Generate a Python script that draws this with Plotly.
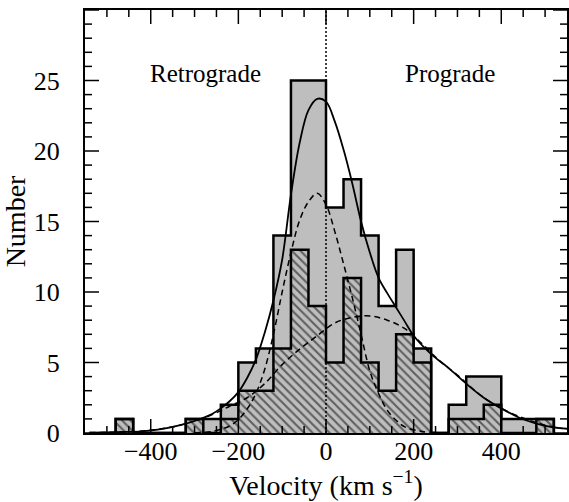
import plotly.graph_objects as go

# Histogram bins (left edges, km/s) and counts
bin_left = [-480, -440, -400, -360, -320, -280, -240, -200, -160, -120, -80, -40,
            0, 40, 80, 120, 160, 200, 240, 280, 320, 360, 400, 440, 480]
bin_width = 40
total_counts = [1, 0, 0, 0, 1, 1, 2, 5, 6, 14, 25, 25,
                16, 18, 14, 9, 13, 6, 0, 2, 4, 4, 1, 1, 1]
subset_counts = [1, 0, 0, 0, 1, 0, 1, 3, 3, 6, 13, 9,
                 5, 11, 5, 3, 7, 5, 0, 1, 1, 2, 0, 0, 1]

# Fitted model curves (velocity, number)
total_fit_v = [-540, -500, -460, -420, -380, -340, -300, -260, -240, -220, -200, -180,
               -160, -140, -120, -100, -80, -60, -40, -20, 0, 20, 40, 60, 80, 100,
               120, 140, 160, 180, 200, 240, 280, 320, 360, 400, 440, 480, 520, 550]
total_fit = [0.02, 0.04, 0.07, 0.12, 0.25, 0.5, 0.85, 1.35, 1.75, 2.25, 2.9, 3.9,
             5.2, 7.1, 9.4, 12.3, 16.9, 20.6, 22.9, 23.7, 23.5, 22.1, 20.1, 17.7, 15.0, 12.8,
             11.0, 9.9, 8.9, 7.9, 6.9, 5.6, 4.6, 3.5, 2.5, 1.75, 1.1, 0.67, 0.4, 0.3]

narrow_v = [-300, -260, -220, -200, -180, -160, -140, -120, -100, -80, -60, -40, -20,
            0, 20, 40, 60, 80, 100, 120, 140, 160, 180, 220, 260]
narrow_fit = [0.02, 0.1, 0.5, 0.95, 1.7, 2.8, 4.5, 7.0, 10.0, 12.8, 15.1, 16.4, 17.0,
              16.2, 14.3, 12.0, 9.6, 7.0, 4.4, 2.8, 1.6, 0.9, 0.43, 0.1, 0.02]

broad_v = [-540, -500, -460, -420, -380, -340, -300, -260, -220, -180, -140, -100, -60,
           -20, 20, 60, 100, 140, 180, 220, 260, 300, 340, 380, 420, 460, 500, 540]
broad_fit = [0.03, 0.05, 0.08, 0.14, 0.28, 0.5, 0.85, 1.3, 1.9, 2.5, 3.5, 4.85, 5.95,
             6.9, 7.8, 8.2, 8.3, 8.0, 7.4, 6.3, 5.1, 4.1, 3.0, 2.1, 1.45, 0.95, 0.55, 0.32]

# Axis ranges and tick positions
x_range = [-550, 550]
y_range = [0, 30]
x_major = [-400, -200, 0, 200, 400]
x_minor = [-500, -450, -350, -300, -250, -150, -100, -50,
           50, 100, 150, 250, 300, 350, 450, 500]
y_major = [0, 5, 10, 15, 20, 25, 30]
y_minor = [v for v in range(0, 31) if v % 5]

GREY = "#bebebe"
FONT = "Liberation Serif"
MAJOR_LEN, MINOR_LEN = 10, 5


def step_outline(left, counts, width):
    """Outline of a histogram as an 'hv' step path closed to the baseline."""
    end = left[-1] + width
    xs = [left[0]] + list(left) + [end, end]
    ys = [0] + list(counts) + [counts[-1], 0]
    return xs, ys


def frame_ticks(fig, values, length, along_x):
    """Inward ticks on both opposite frame edges; markers are clipped by the plot area,
    so a symbol twice the tick length leaves exactly one tick length inside."""
    for edge in (0, 1):
        if along_x:
            xs, ys, sym = values, [y_range[edge]] * len(values), "line-ns"
        else:
            xs, ys, sym = [x_range[edge]] * len(values), values, "line-ew"
        fig.add_trace(go.Scatter(x=xs, y=ys, mode="markers", cliponaxis=True,
                                 marker=dict(symbol=sym, size=2 * length,
                                             line=dict(color="black", width=1.5)),
                                 showlegend=False, hoverinfo="skip"))


fig = go.Figure()

frame_ticks(fig, x_major, MAJOR_LEN, True)
frame_ticks(fig, x_minor, MINOR_LEN, True)
frame_ticks(fig, y_major, MAJOR_LEN, False)
frame_ticks(fig, y_minor, MINOR_LEN, False)

# Full sample: grey bars
fig.add_trace(go.Bar(x=bin_left, y=total_counts, width=bin_width, offset=0,
                     marker=dict(color=GREY, line=dict(width=0)), showlegend=False))
# Sub-sample: hatched bars
fig.add_trace(go.Bar(x=bin_left, y=subset_counts, width=bin_width, offset=0,
                     marker=dict(color=GREY, line=dict(width=0),
                                 pattern=dict(shape="\\", fgcolor="black", bgcolor=GREY,
                                              size=6, solidity=0.35)),
                     showlegend=False))

for counts in (total_counts, subset_counts):
    sx, sy = step_outline(bin_left, counts, bin_width)
    fig.add_trace(go.Scatter(x=sx, y=sy, mode="lines", line=dict(color="black", width=2.5, shape="hv"),
                             showlegend=False, hoverinfo="skip"))

# Zero-velocity divider
fig.add_trace(go.Scatter(x=[0, 0], y=y_range, mode="lines",
                         line=dict(color="black", width=1.5, dash="2px,2px"),
                         showlegend=False, hoverinfo="skip"))

# Model components (dashed) and their sum (solid)
fig.add_trace(go.Scatter(x=narrow_v, y=narrow_fit, mode="lines",
                         line=dict(color="black", width=1.5, dash="6px,4px", shape="spline"),
                         showlegend=False))
fig.add_trace(go.Scatter(x=broad_v, y=broad_fit, mode="lines",
                         line=dict(color="black", width=1.5, dash="6px,4px", shape="spline"),
                         showlegend=False))
fig.add_trace(go.Scatter(x=total_fit_v, y=total_fit, mode="lines",
                         line=dict(color="black", width=1.8, shape="spline"),
                         showlegend=False))

fig.add_annotation(x=-275, y=25.5, text="Retrograde", showarrow=False,
                   font=dict(family=FONT, size=25, color="black"))
fig.add_annotation(x=283, y=25.5, text="Prograde", showarrow=False,
                   font=dict(family=FONT, size=25, color="black"))

fig.update_xaxes(range=x_range, tickmode="array", tickvals=x_major, ticks="",
                 showline=True, linewidth=2, linecolor="black", mirror=True,
                 showgrid=False, zeroline=False,
                 tickfont=dict(family=FONT, size=26, color="black"),
                 ticklabelstandoff=-6,
                 title=dict(text="Velocity (km s<sup>\u22121</sup>)", standoff=4,
                            font=dict(family=FONT, size=28, color="black")))
fig.update_yaxes(range=y_range, tickmode="array", tickvals=y_major, ticks="",
                 showline=True, linewidth=2, linecolor="black", mirror=True,
                 showgrid=False, zeroline=False,
                 tickfont=dict(family=FONT, size=26, color="black"),
                 ticklabelstandoff=18,
                 title=dict(text="Number", standoff=6,
                            font=dict(family=FONT, size=28, color="black")))

fig.update_layout(template="simple_white", width=569, height=502,
                  barmode="overlay", bargap=0,
                  plot_bgcolor="white", paper_bgcolor="white",
                  margin=dict(l=85, r=0, t=10, b=69))

fig.write_html("out.html")
